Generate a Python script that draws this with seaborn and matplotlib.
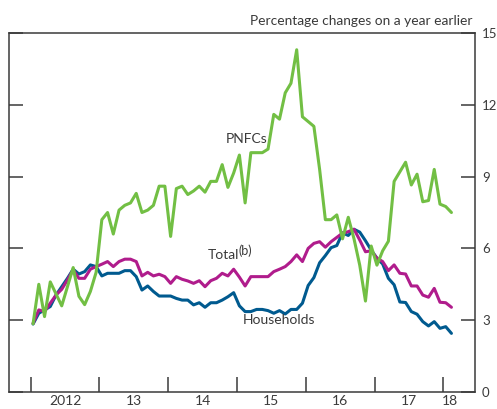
import numpy as np
import pandas as pd
import matplotlib
matplotlib.use("Agg")
import matplotlib.pyplot as plt
import seaborn as sns

# ---------------- data (monthly, Jan 2012 - Feb 2018) ----------------
start_month = "2012-01"
pnfcs = [2.85, 4.5, 3.15, 4.6, 4.1, 3.6, 4.4, 5.2, 4.0, 3.65, 4.2, 5.0,
         7.2, 7.5, 6.6, 7.6, 7.8, 7.9, 8.3, 7.5, 7.6, 7.8, 8.6, 8.6,
         6.5, 8.5, 8.6, 8.25, 8.4, 8.6, 8.35, 8.8, 8.8, 9.5, 8.55, 9.15,
         9.9, 7.9, 10.0, 10.0, 10.0, 10.15, 11.6, 11.4, 12.5, 12.9, 14.3, 11.5,
         11.3, 11.1, 9.3, 7.2, 7.2, 7.4, 6.4, 7.3, 6.4, 5.3, 3.8, 6.1,
         5.3, 5.9, 6.3, 8.8, 9.2, 9.6, 8.65, 9.1, 7.95, 8.0, 9.3, 7.85,
         7.75, 7.5]
total = [2.87, 3.43, 3.36, 3.71, 4.05, 4.29, 4.68, 5.1, 4.75, 4.75, 5.13, 5.24,
         5.34, 5.45, 5.24, 5.45, 5.55, 5.55, 5.45, 4.85, 5.0, 4.85, 4.92, 4.82,
         4.54, 4.82, 4.71, 4.64, 4.54, 4.65, 4.4, 4.65, 4.75, 4.96, 4.85, 5.13,
         4.8, 4.43, 4.82, 4.82, 4.82, 4.82, 5.03, 5.13, 5.24, 5.45, 5.73, 5.45,
         6.0, 6.21, 6.28, 6.05, 6.28, 6.46, 6.64, 6.7, 6.8, 6.35, 5.86, 5.9,
         5.59, 5.45, 5.07, 5.31, 4.96, 4.93, 4.43, 4.43, 4.05, 3.96, 4.33, 3.75,
         3.73, 3.54]
households = [2.84, 3.29, 3.43, 3.57, 4.05, 4.4, 4.75, 5.13, 4.93, 5.03, 5.31, 5.24,
              4.85, 4.96, 4.96, 4.96, 5.07, 5.07, 4.82, 4.26, 4.43, 4.2, 4.01, 4.01,
              4.01, 3.91, 3.84, 3.84, 3.64, 3.73, 3.54, 3.73, 3.73, 3.84, 3.98, 4.15,
              3.6, 3.36, 3.36, 3.45, 3.45, 3.4, 3.29, 3.4, 3.26, 3.45, 3.45, 3.71,
              4.45, 4.78, 5.4, 5.7, 6.03, 6.12, 6.65, 6.54, 6.8, 6.68, 6.32, 5.93,
              5.59, 5.35, 4.75, 4.48, 3.76, 3.74, 3.36, 3.25, 2.94, 2.76, 2.94, 2.66,
              2.73, 2.45]

year_ticks = [2012, 2013, 2014, 2015, 2016, 2017, 2018]
year_labels = ["2012", "13", "14", "15", "16", "17", "18"]
year_label_pos = [2012.5, 2013.5, 2014.5, 2015.5, 2016.5, 2017.5, 2018.1]
y_ticks = [0, 3, 6, 9, 12, 15]

series_names = ["Households", "Total", "PNFCs"]
colors = {"PNFCs": "#72bf44", "Total": "#b01c8c", "Households": "#005a8f"}

# ---------------- build frame ----------------
dates = pd.date_range(start_month, periods=len(total), freq="MS")
xdec = dates.year + (dates.month - 1) / 12 + 0.035
df = pd.DataFrame({"x": xdec, "PNFCs": pnfcs, "Total": total,
                   "Households": households})
long = df.melt(id_vars="x", var_name="series", value_name="value")

# ---------------- style ----------------
sns.set_style("white")
plt.rcParams["font.family"] = ["Lato", "DejaVu Sans"]
text_col = "#3a3a3a"
fs = 10.0
tfs = 9.5

fig = plt.figure(figsize=(4.97, 4.09), dpi=100)
ax = fig.add_axes([9 / 497, 17 / 409, 466 / 497, 359 / 409])

sns.lineplot(data=long, x="x", y="value", hue="series", hue_order=series_names,
             palette=colors, linewidth=2.2, ax=ax, legend=False)

ax.set_xlim(2011.685, 2018.461)
ax.set_ylim(0, 15)
ax.set_xlabel("")
ax.set_ylabel("")

for s in ax.spines.values():
    s.set_visible(True)
    s.set_color(text_col)
    s.set_linewidth(1.1)

ax.set_xticks(year_ticks)
ax.set_xticklabels([""] * len(year_ticks))
ax.tick_params(axis="x", which="major", direction="in", length=11, width=1.1,
               color=text_col, bottom=True, top=False)
ax.set_xticks(year_label_pos, minor=True)
ax.set_xticklabels(year_labels, minor=True)
ax.tick_params(axis="x", which="minor", length=0, pad=2.5, labelsize=fs,
               labelcolor=text_col)

ax.set_yticks(y_ticks)
ax.set_yticklabels([str(v) for v in y_ticks])
ax.tick_params(axis="y", which="major", direction="in", length=10, width=1.1,
               color=text_col, left=True, right=True, labelleft=False,
               labelright=True, pad=5, labelsize=tfs, labelcolor=text_col)

ax.text(2015.137, 10.57, "PNFCs", ha="center", va="center", fontsize=fs,
        color=text_col)
ax.text(2014.573, 5.72, "Total", ha="left", va="center", fontsize=fs,
        color=text_col)
ax.text(2015.025, 5.92, "(b)", ha="left", va="center", fontsize=fs * 0.9,
        color=text_col)
ax.text(2015.086, 3.0, "Households", ha="left", va="center", fontsize=fs,
        color=text_col)

fig.text(473 / 497, 1 - 21 / 409, "Percentage changes on a year earlier",
         ha="right", va="center", fontsize=9.9, color=text_col)

fig.savefig("out.png", dpi=100)
